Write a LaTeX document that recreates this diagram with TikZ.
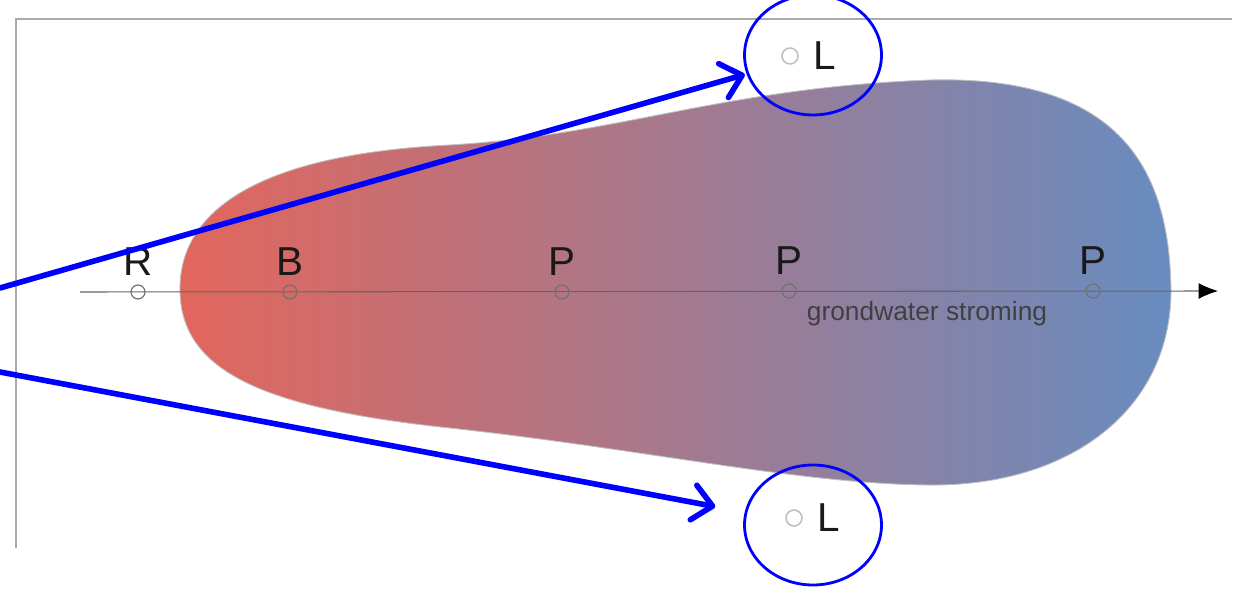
\documentclass[tikz,border=0pt]{standalone}
\usepackage{fontspec}
\setmainfont{Liberation Sans}
\usetikzlibrary{arrows.meta,positioning,shapes.geometric}
\definecolor{plumered}{RGB}{226,102,92}
\definecolor{plumemid}{RGB}{152,128,144}
\definecolor{plumeblue}{RGB}{104,140,192}
\definecolor{framegray}{RGB}{170,170,170}

\begin{document}
\begin{tikzpicture}[
x=0.02cm,y=-0.02cm,
node distance=5pt,
well/.style={circle,draw=black!55,line width=.7pt,inner sep=0pt,minimum size=0.28cm},
lwell/.style={circle,draw=black!25,line width=.9pt,inner sep=0pt,minimum size=0.32cm},
lbl/.style={inner sep=0pt,font=\fontsize{23}{23}\selectfont,text=black!90},
flowlbl/.style={inner sep=0pt,font=\fontsize{15}{15}\selectfont,text=black!75},
ring/.style={ellipse,draw=blue,line width=1.6pt,minimum width=2.74cm,minimum height=2.4cm},
arr/.style={-{Straight Barb[length=11pt,width=20pt,round]},blue,line width=3.2pt,line cap=round},
flow/.style={-{Latex[length=11pt,width=9pt,black]},black!60,line width=.6pt}
]
\useasboundingbox (0,0) rectangle (1239,590);
% frame
\draw[framegray,line width=1pt] (16,548) -- (16,19) -- (1232,19);
% plume
\shadedraw[left color=plumered,middle color=plumemid,right color=plumeblue,draw=black!25,line width=.5pt]
  (180,292) .. controls (178,215) and (250,155) .. (450,145)
  .. controls (620,135) and (720,88) .. (930,80)
  .. controls (1130,75) and (1170,180) .. (1171,292)
  .. controls (1170,410) and (1070,486) .. (930,485)
  .. controls (800,484) and (650,450) .. (450,428)
  .. controls (260,408) and (182,370) .. (180,292) -- cycle;

% flow axis
\coordinate (ax0) at (80,292);
\coordinate (ax1) at (1218,291);
\draw[flow] (ax0) -- (ax1);
\node[flowlbl] (flowtxt) at (927,314) {grondwater stroming};

% wells on the axis
\node[well] (r) at (138,292) {};
\node[well] (b) at (290,292) {};
\node[well] (p1) at (562,292) {};
\node[well] (p2) at (789,291) {};
\node[well] (p3) at (1093,291) {};
\node[lbl,above=5pt of r] {R};
\node[lbl,above=5pt of b] {B};
\node[lbl,above=5pt of p1] {P};
\node[lbl,above=5pt of p2] {P};
\node[lbl,above=5pt of p3] {P};

% side wells
\node[lwell] (l1) at (790,56) {};
\node[lbl,right=8pt of l1] (l1txt) {L};
\node[lwell] (l2) at (794,518) {};
\node[lbl,right=8pt of l2] (l2txt) {L};
\node[ring] (ring1) at (813,55) {};
\node[ring] (ring2) at (813,525) {};

% pointers
\coordinate (s1) at (0,288);
\coordinate (s2) at (0,372);
\draw[arr,shorten >=1pt] (s1) -- (ring1);
\draw[arr,shorten >=17pt] (s2) -- (ring2);
\end{tikzpicture}
\end{document}
